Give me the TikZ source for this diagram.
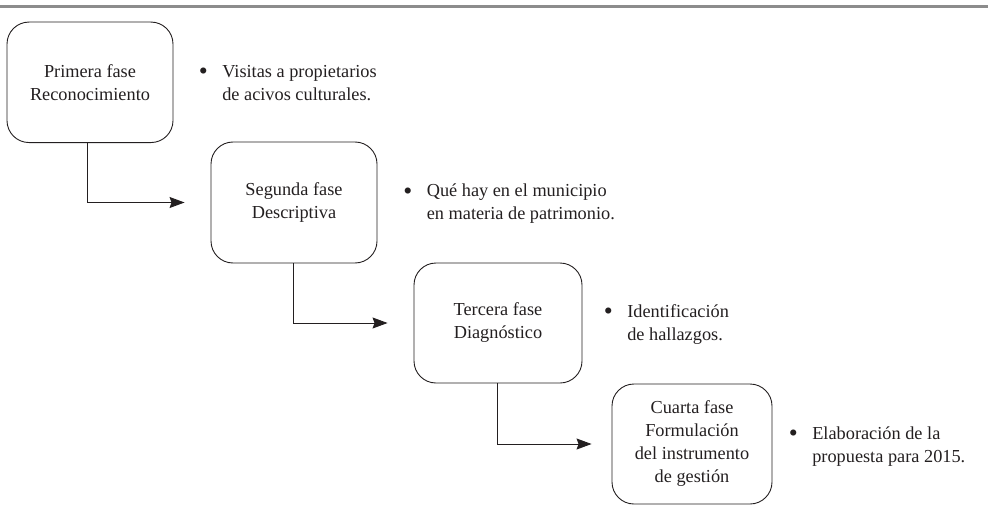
\documentclass[tikz,border=0pt]{standalone}
\usepackage{fontspec}
\setmainfont{Liberation Serif}
\usetikzlibrary{arrows.meta}
\definecolor{ink}{RGB}{35,31,32}
\definecolor{rule}{RGB}{140,140,140}
\newcommand{\mybul}{\makebox[6.3pt][c]{\raisebox{-2.6pt}{\scalebox{1.4}{\textbullet}}}}
\begin{document}
\begin{tikzpicture}[x=1pt,y=-1pt,
  phase/.style={draw=ink, line width=0.9pt, rounded corners=22pt, align=center,
    inner sep=0pt, font=\fontsize{18.3}{23}\selectfont, text=ink},
  note/.style={anchor=west, inner sep=0pt, font=\fontsize{18.3}{23}\selectfont, text=ink},
  link/.style={draw=ink, line width=0.9pt, -{Stealth[length=15pt,width=11pt,inset=2pt]}}]
\useasboundingbox (0,0) rectangle (995,516);
\coordinate (r0) at (0,6.5);
\coordinate (r1) at (988,6.5);
\draw[rule, line width=2.2pt] (r0) -- (r1);

\node[phase, minimum width=166pt, minimum height=120.5pt] (b1) at (90,82.3)
  {Primera fase\\Reconocimiento};
\node[phase, minimum width=166pt, minimum height=121pt] (b2) at (294,202.5)
  {Segunda fase\\Descriptiva};
\node[phase, minimum width=168pt, minimum height=120pt] (b3) at (498,323)
  {Tercera fase\\Diagnóstico};
\node[phase, minimum width=160pt, minimum height=120pt] (b4) at (692,444)
  {Cuarta fase\\Formulación\\del instrumento\\de gestión};

\node[note] (n1) at (200,84)
  {\begin{tabular}{@{}l@{\hspace{15.8pt}}l@{}}\mybul & Visitas a propietarios\\ & de acivos culturales.\end{tabular}};
\node[note] (n2) at (404.5,203.5)
  {\begin{tabular}{@{}l@{\hspace{15.8pt}}l@{}}\mybul & Qué hay en el municipio\\ & en materia de patrimonio.\end{tabular}};
\node[note] (n3) at (605,324)
  {\begin{tabular}{@{}l@{\hspace{15.8pt}}l@{}}\mybul & Identificación\\ & de hallazgos.\end{tabular}};
\node[note] (n4) at (790,446)
  {\begin{tabular}{@{}l@{\hspace{15.8pt}}l@{}}\mybul & Elaboración de la\\ & propuesta para 2015.\end{tabular}};

\draw[link, shorten >=26pt] ([xshift=-3pt]b1.south) |- (b2.west);
\draw[link, shorten >=26pt] ([xshift=-1pt]b2.south) |- (b3.west);
\draw[link, shorten >=20pt] ([xshift=-1pt]b3.south) |- (b4.west);
\end{tikzpicture}
\end{document}
